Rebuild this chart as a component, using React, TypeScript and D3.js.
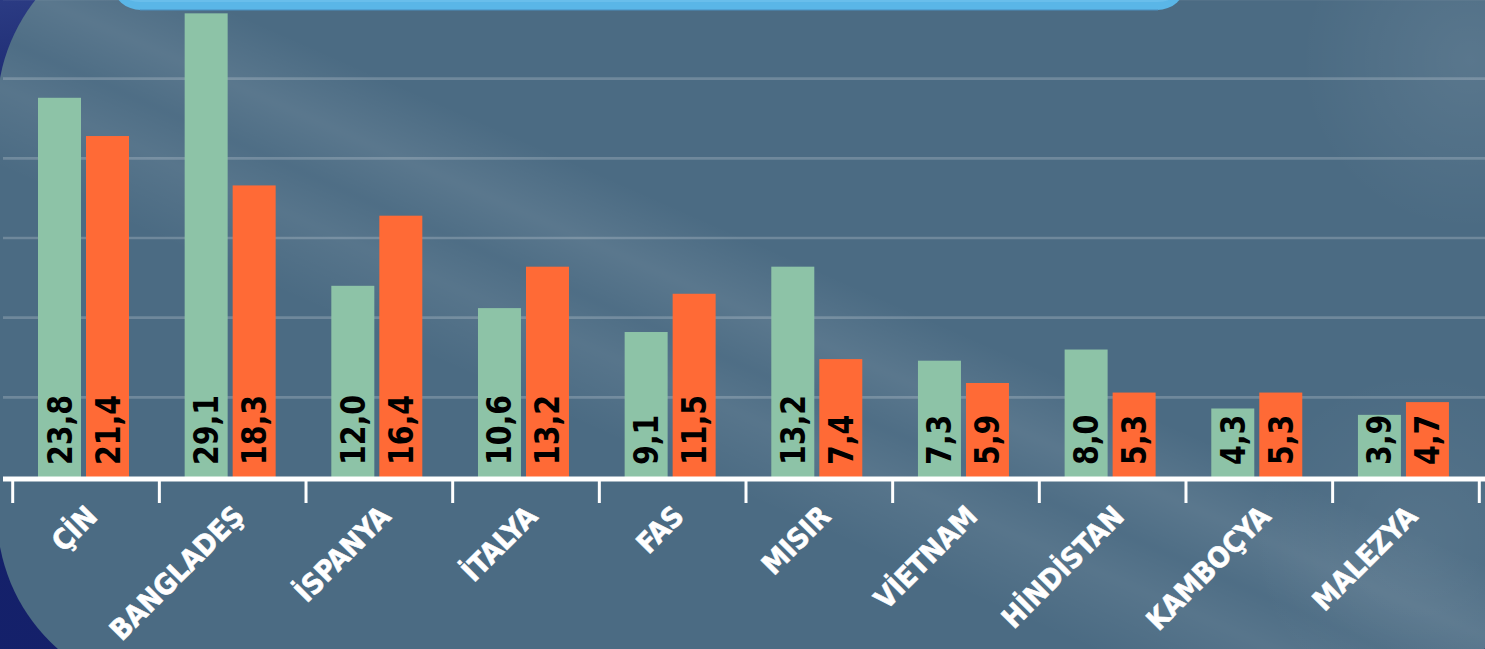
import React from "react";
import * as d3 from "d3";

const categories = ["ÇİN", "BANGLADEŞ", "İSPANYA", "İTALYA", "FAS", "MISIR", "VİETNAM", "HİNDİSTAN", "KAMBOÇYA", "MALEZYA"];
const seriesA = [23.8, 29.1, 12.0, 10.6, 9.1, 13.2, 7.3, 8.0, 4.3, 3.9];
const seriesB = [21.4, 18.3, 16.4, 13.2, 11.5, 7.4, 5.9, 5.3, 5.3, 4.7];
const gridTicks = [5, 10, 15, 20, 25, 30];
const seriesKeys = ["a", "b"];

const W = 1485;
const H = 649;

export default function App() {
  React.useEffect(() => {
    document.body.style.margin = "0";
  }, []);

  const x = d3.scaleBand<string>().domain(categories).range([12.7, 1479.3]).padding(0);
  const inner = d3.scaleBand<string>().domain(seriesKeys).range([25.3, 116.3]).paddingInner(5 / 48).paddingOuter(0);
  const y = d3.scaleLinear().domain([0, 30]).range([477, -1]);
  const fmt = (v: number) => d3.format(".1f")(v).replace(".", ",");
  const colors: Record<string, string> = { a: "#8dc3a7", b: "#ff6a36" };
  const data = categories.map((c, i) => ({ c, a: seriesA[i], b: seriesB[i] }));
  const tickXs = categories.map((c) => x(c)!).concat([x(categories[categories.length - 1])! + x.bandwidth()]);

  return (
    <svg width={W} height={H} style={{ display: "block" }}>
      <defs>
        <linearGradient id="outer" x1="0" y1="0" x2="0.3" y2="1">
          <stop offset="0" stopColor="#2b3b83" />
          <stop offset="0.2" stopColor="#16236a" />
          <stop offset="1" stopColor="#14206a" />
        </linearGradient>
        <linearGradient id="sheen" gradientUnits="userSpaceOnUse" x1="780" y1="-40" x2="480" y2="640">
          <stop offset="0" stopColor="#fff" stopOpacity="0" />
          <stop offset="0.36" stopColor="#fff" stopOpacity="0" />
          <stop offset="0.45" stopColor="#fff" stopOpacity="0.085" />
          <stop offset="0.52" stopColor="#fff" stopOpacity="0.02" />
          <stop offset="0.58" stopColor="#fff" stopOpacity="0.07" />
          <stop offset="0.68" stopColor="#fff" stopOpacity="0" />
          <stop offset="1" stopColor="#fff" stopOpacity="0" />
        </linearGradient>
        <radialGradient id="sheenTR" gradientUnits="userSpaceOnUse" cx="1470" cy="60" r="170">
          <stop offset="0" stopColor="#fff" stopOpacity="0.08" />
          <stop offset="1" stopColor="#fff" stopOpacity="0" />
        </radialGradient>
        <radialGradient id="sheenBR" gradientUnits="userSpaceOnUse" cx="1420" cy="540" r="170">
          <stop offset="0" stopColor="#fff" stopOpacity="0.06" />
          <stop offset="1" stopColor="#fff" stopOpacity="0" />
        </radialGradient>
        <clipPath id="panelClip">
          <rect x={-3} y={-69} width={1548} height={763} rx={180} ry={180} />
        </clipPath>
      </defs>
      <rect x={0} y={0} width={W} height={H} fill="url(#outer)" />
      <g clipPath="url(#panelClip)">
        <rect x={-3} y={-69} width={1548} height={763} fill="#4b6b83" />
        <rect x={-3} y={-69} width={1548} height={763} fill="url(#sheen)" />
        <rect x={-3} y={-69} width={1548} height={763} fill="url(#sheenTR)" />
        <rect x={-3} y={-69} width={1548} height={763} fill="url(#sheenBR)" />
      </g>
      {gridTicks.map((t) => (
        <line key={t} x1={3} x2={W} y1={y(t)} y2={y(t)} stroke="#fff" strokeOpacity={0.2} strokeWidth={2.6} />
      ))}
      <rect x={113} y={-40} width={1072} height={50} rx={28} ry={28} fill="#5ab6e7" />
      <rect x={113} y={-40} width={1072} height={42} rx={28} ry={28} fill="#78c6ef" opacity={0.5} />
      <line x1={140} x2={1158} y1={10} y2={10} stroke="#4a8fbf" strokeWidth={1} />
      {data.map((d) => (
        <g key={d.c} transform={`translate(${x(d.c)},0)`}>
          {seriesKeys.map((k) => {
            const v = (d as any)[k] as number;
            const bx = inner(k)!;
            const bw = inner.bandwidth();
            return (
              <g key={k}>
                <rect x={bx} y={y(v)} width={bw} height={y(0) - y(v)} fill={colors[k]} />
                <text
                  transform={`translate(${bx + bw / 2 + 12},${y(0) - 12}) rotate(-90) scale(0.86,1)`}
                  fontFamily="DejaVu Sans"
                  fontWeight="bold"
                  fontSize={33}
                  fill="#000"
                >
                  {fmt(v)}
                </text>
              </g>
            );
          })}
        </g>
      ))}
      <line x1={3} x2={W} y1={479} y2={479} stroke="#fff" strokeWidth={5} />
      {tickXs.map((tx, i) => (
        <line key={i} x1={tx} x2={tx} y1={479} y2={503} stroke="#fff" strokeWidth={3} />
      ))}
      {categories.map((c) => (
        <text
          key={c}
          transform={`translate(${x(c)! + x.bandwidth() / 2 + 13},${518}) rotate(-45)`}
          textAnchor="end"
          fontFamily="DejaVu Sans Condensed, DejaVu Sans"
          fontStretch="condensed"
          fontWeight="bold"
          fontSize={28.5}
          stroke="#fff"
          strokeWidth={0.6}
          fill="#fff"
        >
          {c}
        </text>
      ))}
    </svg>
  );
}
